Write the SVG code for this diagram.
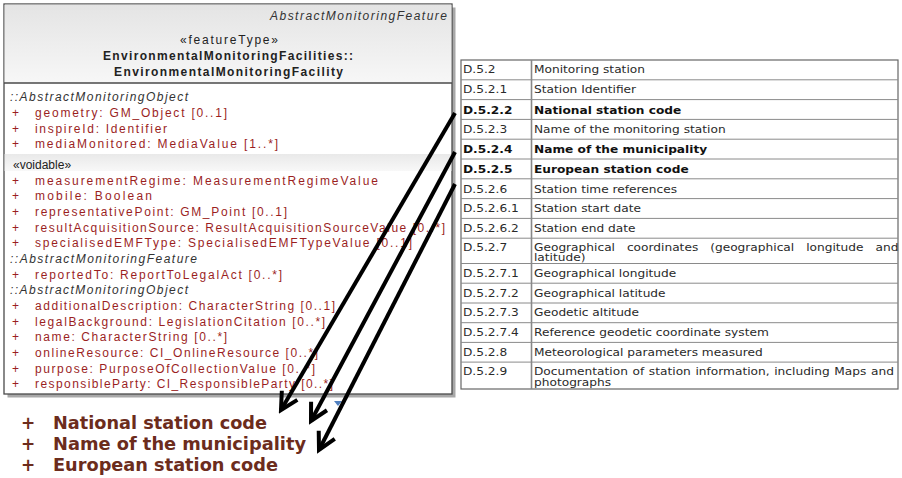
<svg xmlns="http://www.w3.org/2000/svg" width="902" height="478" viewBox="0 0 902 478">
<style>
.uml{font-family:"Liberation Sans",Arial,sans-serif;font-size:12px}
.attr{fill:#9b1f1f}
.it{font-style:italic;fill:#333}
.hb{font-weight:bold;fill:#222}
.tbl{font-family:"DejaVu Sans",Verdana,sans-serif;font-size:10px;fill:#2a2a2a}
.b{font-weight:bold;fill:#111}
.grid{stroke:#8a8a8a;stroke-width:1;fill:none}
.big{font-family:"DejaVu Sans",Verdana,sans-serif;font-size:17px;font-weight:bold;fill:#6c2c1c}
.arrow{stroke:#000;stroke-width:4;fill:none;marker-end:url(#vhead)}
</style>
<defs>
<linearGradient id="hdr" x1="0" y1="0" x2="0" y2="1">
<stop offset="0" stop-color="#e4e4e4"/>
<stop offset="1" stop-color="#f7f7f7"/>
</linearGradient>
<linearGradient id="band" x1="0" y1="0" x2="0" y2="1">
<stop offset="0" stop-color="#e9e9e9"/>
<stop offset="1" stop-color="#f8f8f8"/>
</linearGradient>
<marker id="vhead" markerUnits="userSpaceOnUse" viewBox="-22 -12 26 24" markerWidth="26" markerHeight="24" refX="0" refY="0" orient="auto">
<path d="M-17,-9 L0,0 L-17,9" stroke="#000" stroke-width="4" fill="none" stroke-linejoin="miter"/>
</marker>
</defs>
<rect width="902" height="478" fill="#fff"/>

<g id="uml-class">
<rect x="7.5" y="7.5" width="448" height="390" fill="#a8a8a8"/>
<rect x="4" y="4" width="448" height="390" fill="#fff" stroke="#4a4a4a" stroke-width="1.3"/>
<rect x="4.6" y="4.6" width="446.8" height="78.4" fill="url(#hdr)"/>
<line x1="4" y1="83" x2="452" y2="83" stroke="#4a4a4a" stroke-width="1.3"/>
<rect x="4.6" y="154" width="446.8" height="17" fill="url(#band)"/>
<text class="uml it" x="447" y="20" text-anchor="end" textLength="177" lengthAdjust="spacing">AbstractMonitoringFeature</text>
<text class="uml" x="229" y="44" text-anchor="middle" fill="#222" textLength="98" lengthAdjust="spacing">«featureType»</text>
<text class="uml hb" x="228" y="60" text-anchor="middle" textLength="250" lengthAdjust="spacing">EnvironmentalMonitoringFacilities::</text>
<text class="uml hb" x="228.5" y="76" text-anchor="middle" textLength="229" lengthAdjust="spacing">EnvironmentalMonitoringFacility</text>

<text class="uml it" x="10" y="101.3" textLength="178" lengthAdjust="spacing">::AbstractMonitoringObject</text>
<g class="uml attr">
<text x="12" y="117">+</text><text x="35" y="117" textLength="192" lengthAdjust="spacing">geometry:  GM_Object [0..1]</text>
<text x="12" y="132.6">+</text><text x="35" y="132.6" textLength="132" lengthAdjust="spacing">inspireId:  Identifier</text>
<text x="12" y="148.3">+</text><text x="35" y="148.3" textLength="243" lengthAdjust="spacing">mediaMonitored:  MediaValue [1..*]</text>
</g>
<text class="uml" x="13" y="169" fill="#222">«voidable»</text>
<g class="uml attr">
<text x="12" y="184.7">+</text><text x="35" y="184.7" textLength="343" lengthAdjust="spacing">measurementRegime:  MeasurementRegimeValue</text>
<text x="12" y="200.3">+</text><text x="35" y="200.3" textLength="117" lengthAdjust="spacing">mobile:  Boolean</text>
<text x="12" y="216">+</text><text x="35" y="216" textLength="252" lengthAdjust="spacing">representativePoint:  GM_Point [0..1]</text>
<text x="12" y="231.6">+</text><text x="35" y="231.6" textLength="410" lengthAdjust="spacing">resultAcquisitionSource:  ResultAcquisitionSourceValue [0..*]</text>
<text x="12" y="247.3">+</text><text x="35" y="247.3" textLength="377" lengthAdjust="spacing">specialisedEMFType:  SpecialisedEMFTypeValue [0..1]</text>
</g>
<text class="uml it" x="10" y="262.9" textLength="187" lengthAdjust="spacing">::AbstractMonitoringFeature</text>
<g class="uml attr">
<text x="12" y="278.6">+</text><text x="35" y="278.6" textLength="247" lengthAdjust="spacing">reportedTo:  ReportToLegalAct [0..*]</text>
</g>
<text class="uml it" x="10" y="294.2" textLength="178" lengthAdjust="spacing">::AbstractMonitoringObject</text>
<g class="uml attr">
<text x="12" y="309.9">+</text><text x="35" y="309.9" textLength="300" lengthAdjust="spacing">additionalDescription:  CharacterString [0..1]</text>
<text x="12" y="325.5">+</text><text x="35" y="325.5" textLength="290" lengthAdjust="spacing">legalBackground:  LegislationCitation [0..*]</text>
<text x="12" y="341.2">+</text><text x="35" y="341.2" textLength="192" lengthAdjust="spacing">name:  CharacterString [0..*]</text>
<text x="12" y="356.8">+</text><text x="35" y="356.8" textLength="283" lengthAdjust="spacing">onlineResource:  CI_OnlineResource [0..*]</text>
<text x="12" y="372.5">+</text><text x="35" y="372.5" textLength="280" lengthAdjust="spacing">purpose:  PurposeOfCollectionValue [0..*]</text>
<text x="12" y="388.1">+</text><text x="35" y="388.1" textLength="298" lengthAdjust="spacing">responsibleParty:  CI_ResponsibleParty [0..*]</text>
</g>
<polygon points="334,401 342,401 338,406" fill="#4f7fbf"/>
</g>

<g id="table">
<rect x="461" y="60" width="437" height="329" fill="#fff" stroke="#666" stroke-width="1.2"/>
<line x1="531.5" y1="60" x2="531.5" y2="389" stroke="#888" stroke-width="1.6"/>
<path class="grid" d="M461,79.8H898M461,99.6H898M461,119.4H898M461,139.2H898M461,159H898M461,178.8H898M461,198.6H898M461,218.4H898M461,238.2H898M461,263.5H898M461,283.2H898M461,303H898M461,322.7H898M461,342.4H898M461,362.1H898"/>
<g class="tbl" transform="scale(1.22 1)">
<text x="379.5" y="73.5">D.5.2</text><text x="437.7" y="73.5">Monitoring station</text>
<text x="379.5" y="93.3">D.5.2.1</text><text x="437.7" y="93.3">Station Identifier</text>
<text class="b" x="379.5" y="113.6">D.5.2.2</text><text class="b" x="437.7" y="113.6">National station code</text>
<text x="379.5" y="133.2">D.5.2.3</text><text x="437.7" y="133.2">Name of the monitoring station</text>
<text class="b" x="379.5" y="153.2">D.5.2.4</text><text class="b" x="437.7" y="153.2">Name of the municipality</text>
<text class="b" x="379.5" y="173">D.5.2.5</text><text class="b" x="437.7" y="173">European station code</text>
<text x="379.5" y="192.6">D.5.2.6</text><text x="437.7" y="192.6">Station time references</text>
<text x="379.5" y="212.4">D.5.2.6.1</text><text x="437.7" y="212.4">Station start date</text>
<text x="379.5" y="232">D.5.2.6.2</text><text x="437.7" y="232">Station end date</text>
<text x="379.5" y="251">D.5.2.7</text><text x="437.7" y="251" word-spacing="6.6">Geographical coordinates (geographical longitude and</text>
<text x="437.7" y="261">latitude)</text>
<text x="379.5" y="277">D.5.2.7.1</text><text x="437.7" y="277">Geographical longitude</text>
<text x="379.5" y="296.7">D.5.2.7.2</text><text x="437.7" y="296.7">Geographical latitude</text>
<text x="379.5" y="316.5">D.5.2.7.3</text><text x="437.7" y="316.5">Geodetic altitude</text>
<text x="379.5" y="336.2">D.5.2.7.4</text><text x="437.7" y="336.2">Reference geodetic coordinate system</text>
<text x="379.5" y="355.9">D.5.2.8</text><text x="437.7" y="355.9">Meteorological parameters measured</text>
<text x="379.5" y="375">D.5.2.9</text><text x="437.7" y="375" word-spacing="0.6">Documentation of station information, including Maps and</text>
<text x="437.7" y="386">photographs</text>
</g>
</g>

<g id="attribute-list">
<text class="big" x="21" y="429">+</text><text class="big" x="53" y="429" textLength="214" lengthAdjust="spacingAndGlyphs">National station code</text>
<text class="big" x="21" y="450">+</text><text class="big" x="53" y="450" textLength="253" lengthAdjust="spacingAndGlyphs">Name of the municipality</text>
<text class="big" x="21" y="471">+</text><text class="big" x="53" y="471" textLength="225" lengthAdjust="spacingAndGlyphs">European station code</text>
</g>

<g id="connectors">
<path class="arrow" d="M455,113 L281,410"/>
<path class="arrow" d="M455,152 L311,421"/>
<path class="arrow" d="M455,184 L319,450"/>
</g>
</svg>
